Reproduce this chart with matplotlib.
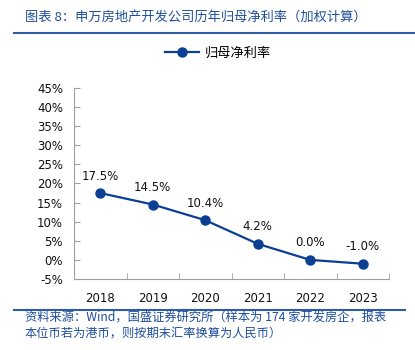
import matplotlib
matplotlib.use("Agg")
import matplotlib.pyplot as plt
from matplotlib.lines import Line2D
import numpy as np

plt.rcParams['font.family'] = ['DejaVu Sans', 'Noto Sans CJK SC']

years = ['2018', '2019', '2020', '2021', '2022', '2023']
values = [17.5, 14.5, 10.4, 4.2, 0.0, -1.0]
labels = ['17.5%', '14.5%', '10.4%', '4.2%', '0.0%', '-1.0%']
yticks = [-5, 0, 5, 10, 15, 20, 25, 30, 35, 40, 45]
title = '图表 8：申万房地产开发公司历年归母净利率（加权计算）'
series_name = '归母净利率'
source = ('资料来源：Wind，国盛证券研究所（样本为 174 家开发房企，报表\n'
          '本位币若为港币，则按期末汇率换算为人民币）')

W, H = 415, 350
fig = plt.figure(figsize=(W/100, H/100), dpi=100)
ax = fig.add_axes([74/W, 1-279/H, (389-74)/W, (279-88)/H])

line_color = '#0b3f93'
blue = '#1f4e9c'
x = np.arange(len(years))
ax.plot(x, values, color=line_color, lw=1.6, marker='o', ms=6.5, zorder=3)
for xi, v, lab in zip(x, values, labels):
    ax.annotate(lab, (xi, v), xytext=(0, 17), textcoords='offset pixels',
                ha='center', va='center', fontsize=8.5, color='#111111')

ax.set_xlim(-0.5, len(years)-0.5)
ax.set_ylim(-5, 45)
ax.set_yticks(yticks)
ax.set_yticklabels([f'{t}%' for t in yticks], fontsize=8.5, color='#111111')
ax.set_xticks(x)
ax.set_xticklabels(years, fontsize=8.5, color='#111111')
ax.set_xticks(np.arange(-0.5, len(years), 1), minor=True)
ax.tick_params(axis='x', which='major', length=0, pad=9)
ax.tick_params(axis='x', which='minor', length=4, direction='in', color='#a0a0a0')
ax.tick_params(axis='y', length=4, direction='in', color='#a0a0a0', pad=8)
for s in ['top', 'right']:
    ax.spines[s].set_visible(False)
for s in ['left', 'bottom']:
    ax.spines[s].set_color('#a0a0a0')
    ax.spines[s].set_linewidth(0.8)

# legend
handle = Line2D([], [], color=line_color, lw=1.6, marker='o', ms=6.5)
fig.legend([handle], [series_name], loc='center', bbox_to_anchor=(218/W, 1-53/H),
           frameon=False, prop={'family': ['Noto Sans CJK SC'], 'size': 9.5},
           handlelength=2.6, handletextpad=0.4)

# title
fig.text(25/W, 1-17/H, title, fontsize=9.5, color=blue, style='italic',
         family=['Noto Sans CJK SC', 'DejaVu Sans'], ha='left', va='center')
fig.add_artist(Line2D([14/W, 1.0], [1-33/H, 1-33/H], color='#2e5aa8', lw=1.5,
                      transform=fig.transFigure))
fig.add_artist(Line2D([14/W, 405/W], [1-310/H, 1-310/H], color='#2e5aa8', lw=1.5,
                      transform=fig.transFigure))
fig.text(25/W, 1-325.5/H, source, fontsize=8.8, color=blue, style='italic',
         family=['Noto Sans CJK SC', 'DejaVu Sans'], ha='left', va='center',
         linespacing=1.15)

fig.savefig('out.png', dpi=100)
